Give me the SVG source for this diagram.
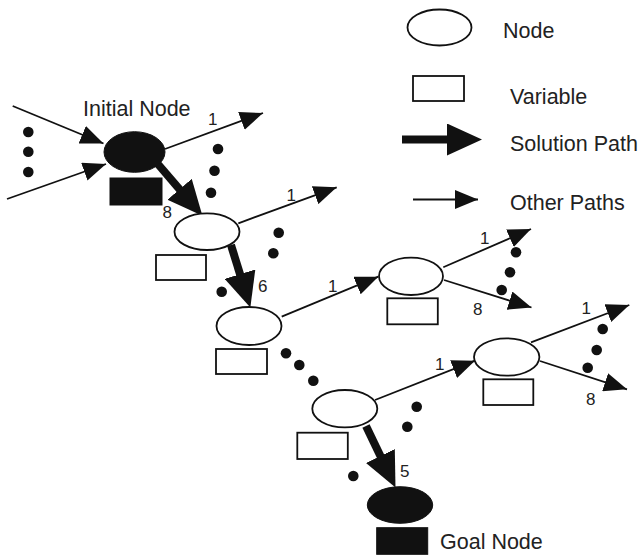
<svg xmlns="http://www.w3.org/2000/svg" width="641" height="557" viewBox="0 0 641 557">
<defs>
<style>
.node{fill:#fff;stroke:#111;stroke-width:1.8}
.var{fill:#fff;stroke:#111;stroke-width:1.8}
.solid{fill:#111;stroke:#111;stroke-width:1}
.thin{stroke:#111;stroke-width:1.8;fill:none;marker-end:url(#ah)}
.thick{stroke:#111;stroke-width:8;fill:none;marker-end:url(#ahb)}
.dot{fill:#111}
.lbl{font-family:"Liberation Sans",Arial,sans-serif;font-size:21.5px;fill:#222}
.num{font-family:"Liberation Sans",Arial,sans-serif;font-size:17px;fill:#222}
</style>
<marker id="ah" markerUnits="userSpaceOnUse" markerWidth="23" markerHeight="19" refX="23" refY="9.5" orient="auto"><path d="M0,0 L23,9.5 L0,19 z" fill="#111"/></marker>
<marker id="ahb" markerUnits="userSpaceOnUse" markerWidth="35" markerHeight="32" refX="4" refY="16" orient="auto"><path d="M0,0 L35,16 L0,32 z" fill="#111"/></marker>
</defs>

<g id="legend">
<ellipse class="node" cx="439.5" cy="27.5" rx="32" ry="18"/>
<text class="lbl" x="503" y="38">Node</text>
<rect class="var" x="413" y="76" width="51" height="25"/>
<text class="lbl" x="510" y="104">Variable</text>
<line class="thick" x1="402" y1="139.5" x2="451" y2="139.5"/>
<text class="lbl" x="510" y="151">Solution Path</text>
<line class="thin" x1="413" y1="199.5" x2="478" y2="199.5"/>
<text class="lbl" x="510" y="210">Other Paths</text>
</g>

<g id="connectors">
<line class="thin" x1="12.7" y1="106" x2="103.5" y2="143.5"/>
<line class="thin" x1="7" y1="199" x2="106" y2="164"/>
<line class="thin" x1="165" y1="149" x2="263" y2="113"/>
<line class="thin" x1="238.3" y1="223.3" x2="336.7" y2="187.3"/>
<line class="thin" x1="281.7" y1="316.7" x2="378.3" y2="276.7"/>
<line class="thin" x1="443.3" y1="267.3" x2="531" y2="229"/>
<line class="thin" x1="444" y1="280" x2="531.5" y2="307.5"/>
<line class="thin" x1="531" y1="342.3" x2="629.3" y2="305"/>
<line class="thin" x1="540" y1="361" x2="627" y2="389.3"/>
<line class="thin" x1="375" y1="400" x2="475" y2="360.7"/>
<line class="thick" x1="157" y1="163" x2="182.2" y2="192.3"/>
<line class="thick" x1="231" y1="245" x2="241.2" y2="278"/>
<line class="thick" x1="366" y1="426" x2="382.1" y2="459.6"/>
<text class="num" x="208" y="125">1</text>
<text class="num" x="162.5" y="218">8</text>
<text class="num" x="286.5" y="201">1</text>
<text class="num" x="258" y="292">6</text>
<text class="num" x="328" y="292">1</text>
<text class="num" x="480" y="244">1</text>
<text class="num" x="473" y="315">8</text>
<text class="num" x="581.5" y="314">1</text>
<text class="num" x="586" y="405">8</text>
<text class="num" x="435" y="370">1</text>
<text class="num" x="400" y="477">5</text>
</g>

<g id="dots">
<circle class="dot" cx="28.3" cy="132" r="5.3"/>
<circle class="dot" cx="28.3" cy="151.7" r="5.3"/>
<circle class="dot" cx="28.3" cy="172" r="5.3"/>
<circle class="dot" cx="218" cy="149" r="5.3"/>
<circle class="dot" cx="214.5" cy="170.7" r="5.3"/>
<circle class="dot" cx="211" cy="192.7" r="5.3"/>
<circle class="dot" cx="278.7" cy="232.7" r="5.3"/>
<circle class="dot" cx="273.3" cy="253.3" r="5.3"/>
<circle class="dot" cx="221.7" cy="291.7" r="5.3"/>
<circle class="dot" cx="516" cy="252.3" r="5.3"/>
<circle class="dot" cx="510" cy="272.3" r="5.3"/>
<circle class="dot" cx="501.7" cy="290" r="5.3"/>
<circle class="dot" cx="286" cy="353.3" r="5.3"/>
<circle class="dot" cx="299.3" cy="365" r="5.3"/>
<circle class="dot" cx="313.3" cy="380.7" r="5.3"/>
<circle class="dot" cx="602.7" cy="329" r="5.3"/>
<circle class="dot" cx="596.7" cy="350" r="5.3"/>
<circle class="dot" cx="587.7" cy="367.7" r="5.3"/>
<circle class="dot" cx="416.7" cy="406.7" r="5.3"/>
<circle class="dot" cx="407.3" cy="426.7" r="5.3"/>
<circle class="dot" cx="353.3" cy="476" r="5.3"/>
</g>

<g id="initial-node">
<ellipse class="solid" cx="134.5" cy="152" rx="30.5" ry="20.3"/>
<rect class="solid" x="110" y="178" width="52" height="27"/>
<text class="lbl" x="83" y="116">Initial Node</text>
</g>
<g id="node-2">
<ellipse class="node" cx="207" cy="231.7" rx="32.5" ry="18.3"/>
<rect class="var" x="156" y="255" width="50" height="25"/>
</g>
<g id="node-3">
<ellipse class="node" cx="249" cy="326" rx="32.5" ry="19"/>
<rect class="var" x="216" y="349" width="51" height="25"/>
</g>
<g id="node-4">
<ellipse class="node" cx="411" cy="276.3" rx="32" ry="18.7"/>
<rect class="var" x="387.3" y="298.3" width="50.5" height="26"/>
</g>
<g id="node-5">
<ellipse class="node" cx="506.7" cy="357" rx="32.7" ry="18.7"/>
<rect class="var" x="483.3" y="379.3" width="50" height="25.7"/>
</g>
<g id="node-6">
<ellipse class="node" cx="344.8" cy="408.7" rx="32.5" ry="18.7"/>
<rect class="var" x="297.3" y="432.7" width="50.5" height="26.3"/>
</g>
<g id="goal-node">
<ellipse class="solid" cx="400" cy="505" rx="32.7" ry="18.3"/>
<rect class="solid" x="376.7" y="527.7" width="51" height="26.6"/>
<text class="lbl" x="440" y="549">Goal Node</text>
</g>
</svg>
